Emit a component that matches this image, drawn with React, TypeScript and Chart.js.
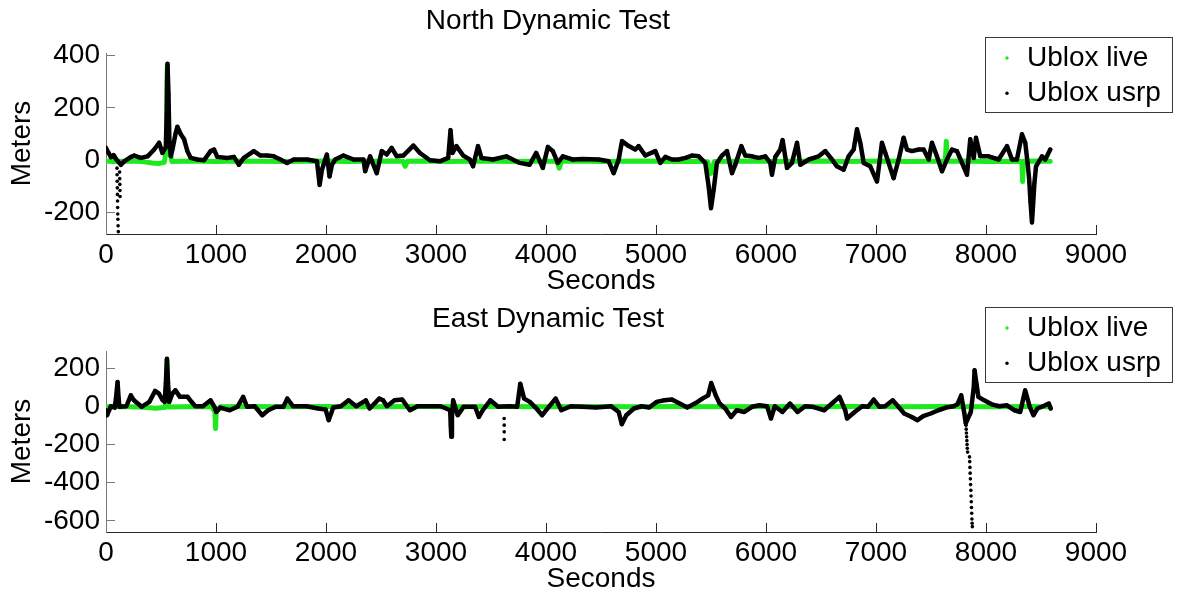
import React, { useEffect, useRef } from 'react';
import { Chart, registerables } from 'chart.js';

Chart.register(...registerables);

const FONT = '"Liberation Sans", Arial, Helvetica, sans-serif';
const GREEN = '#1ee81e';

type Pt = [number, number];

// ---------- tick values ----------
const xTicks = [0, 1000, 2000, 3000, 4000, 5000, 6000, 7000, 8000, 9000];
const northYTicks = [-200, 0, 200, 400];
const eastYTicks = [-600, -400, -200, 0, 200];

// ---------- North Dynamic Test ----------
const northLive: Pt[] = [
  [0, -3], [60, -5], [150, -4], [250, -3], [350, -6], [420, -10], [480, -12], [530, -8],
  [548, 40], [553, 300], [558, 360], [565, 60], [600, -5], [700, -4], [800, -3], [900, -4],
  [1000, -5], [1200, -3], [1400, -4], [1600, -5], [1800, -4], [2000, -3], [2200, -5], [2400, -4],
  [2600, -3], [2700, -4], [2720, -23], [2740, -4], [2900, -3], [3100, -5], [3300, -4], [3500, -3],
  [3700, -5], [3900, -4], [4100, -4], [4120, -30], [4140, -4], [4300, -3], [4500, -5], [4700, -4],
  [4900, -3], [5100, -5], [5300, -4], [5470, -6], [5500, -50], [5530, -5], [5700, -4], [5900, -3],
  [6100, -5], [6300, -4], [6500, -3], [6700, -5], [6900, -4], [7100, -3], [7300, -5], [7500, -4],
  [7630, -4], [7639, 73], [7648, -4], [7800, -3], [8000, -5], [8200, -4], [8326, -5], [8333, -81],
  [8340, -4], [8450, -3], [8584, -4],
];

const northUsrp: Pt[] = [
  [0, 47], [21, 30], [45, 12], [69, 20], [91, 5], [136, -17], [166, -4], [227, 13], [257, 18],
  [317, 9], [378, 15], [438, 41], [483, 67], [513, 28], [544, 50], [553, 200], [559, 368], [568, 250],
  [577, 60], [589, 15], [604, 41], [634, 105], [649, 128], [680, 99], [710, 80], [740, 35], [770, 9],
  [831, 3], [891, 0], [951, 35], [982, 41], [1012, 13], [1102, 9], [1163, 13], [1208, -17], [1253, 9],
  [1344, 35], [1404, 18], [1465, 18], [1525, 15], [1586, 3], [1646, -10], [1706, 3], [1827, 3],
  [1918, -4], [1942, -94], [1963, -36], [2008, 22], [2032, -62], [2054, -17], [2084, 3], [2159, 18],
  [2250, 3], [2341, 3], [2356, -42], [2401, 15], [2461, -49], [2507, 35], [2552, 22], [2597, 47],
  [2643, 15], [2703, 18], [2794, 56], [2854, 28], [2945, 0], [3035, -4], [3111, 9], [3132, 115],
  [3150, 28], [3186, 54], [3247, 18], [3307, 3], [3337, -23], [3382, 54], [3413, 9], [3518, 3],
  [3639, 15], [3760, -10], [3851, -17], [3911, 28], [3971, -29], [4017, 51], [4062, 35], [4107, -10],
  [4153, 15], [4243, 3], [4334, 5], [4479, 3], [4570, -4], [4615, -49], [4661, 3], [4691, 73],
  [4752, 54], [4812, 41], [4842, 54], [4903, 18], [4994, 35], [5039, -10], [5085, 13], [5145, 3],
  [5206, 3], [5267, 9], [5327, 18], [5388, 15], [5448, -10], [5479, -100], [5500, -183], [5524, -113],
  [5554, -10], [5600, 18], [5645, 35], [5691, -49], [5721, -17], [5776, 54], [5812, 18], [5873, 15],
  [5933, 9], [5994, 15], [6039, -10], [6054, -55], [6085, 13], [6130, 41], [6151, 77], [6191, -29],
  [6236, -10], [6282, 67], [6312, -17], [6388, 3], [6479, 15], [6539, 35], [6600, 3], [6645, -23],
  [6706, -36], [6751, 15], [6797, 41], [6827, 118], [6857, 67], [6888, -10], [6948, -23], [7009, -81],
  [7054, 67], [7085, 28], [7160, -68], [7206, 3], [7251, 86], [7282, 41], [7327, 35], [7388, 41],
  [7433, 41], [7479, 3], [7509, 67], [7554, 15], [7600, -42], [7645, 3], [7691, 41], [7736, 35],
  [7782, -10], [7827, -55], [7857, 80], [7888, 9], [7909, 86], [7948, 15], [8024, 15], [8115, 3],
  [8191, 54], [8236, 3], [8281, 3], [8327, 99], [8357, 67], [8378, -10], [8392, -70], [8405, -160],
  [8418, -237], [8428, -170], [8440, -87], [8455, -23], [8509, 15], [8539, 3], [8584, 41],
];

const northUsrpDots: Pt[] = [
  [100, -30], [101, -55], [102, -80], [103, -105], [104, -130], [105, -155], [106, -180], [107, -205],
  [108, -225], [110, -250], [112, -272], [124, -45], [125, -70], [126, -92], [127, -115], [128, -138],
];

// ---------- East Dynamic Test ----------
const eastLive: Pt[] = [
  [0, -3], [150, -2], [300, -4], [400, -8], [450, -10], [500, -8], [540, -5], [548, 100], [554, 240],
  [560, 80], [570, -4], [700, -3], [850, -2], [960, -3], [990, -30], [996, -117], [1002, -30],
  [1040, -3], [1300, -2], [1600, -3], [2000, -2], [2400, -3], [2800, -2], [3200, -3], [3600, -2],
  [4000, -3], [4400, -2], [4800, -3], [5200, -2], [5600, -3], [6000, -2], [6400, -3], [6800, -2],
  [7200, -3], [7600, -2], [8000, -3], [8400, -2], [8584, -3],
];

const eastUsrp: Pt[] = [
  [0, -21], [10, -47], [45, 0], [80, -7], [94, 60], [105, 127], [115, 40], [122, -3], [185, 0],
  [226, 57], [254, 31], [324, -3], [394, 23], [446, 80], [481, 66], [516, 31], [533, 23], [544, 120],
  [554, 249], [564, 120], [575, 23], [603, 66], [631, 83], [672, 49], [742, 49], [777, 23], [812, 0],
  [881, 0], [951, 31], [986, -3], [1003, -30], [1038, -7], [1125, -21], [1195, -3], [1247, 49],
  [1282, -3], [1352, 0], [1421, -47], [1474, -21], [1543, -3], [1613, -3], [1648, 40], [1700, 0],
  [1822, 0], [1927, -12], [1996, -17], [2024, -73], [2066, -7], [2136, 0], [2205, 31], [2275, 0],
  [2362, 31], [2397, -12], [2484, 40], [2519, 31], [2554, 0], [2623, 31], [2693, 35], [2763, -21],
  [2833, 0], [2937, 0], [3042, 0], [3129, -21], [3134, -100], [3139, -160], [3145, -60], [3156, 31],
  [3198, -47], [3251, -3], [3355, -3], [3390, -56], [3425, -21], [3494, 31], [3564, -3], [3669, 0],
  [3738, -3], [3766, 118], [3801, 40], [3853, 23], [3905, -7], [3965, -47], [4026, -3], [4087, 40],
  [4139, -21], [4226, 0], [4331, -3], [4453, -7], [4592, 0], [4661, -30], [4689, -94], [4730, -47],
  [4799, -12], [4869, 0], [4938, -7], [5007, 23], [5076, 31], [5145, 35], [5215, 14], [5284, -7],
  [5353, 14], [5422, 40], [5474, 57], [5502, 122], [5543, 57], [5578, 14], [5630, -12], [5682, -56],
  [5734, -21], [5803, -30], [5872, -3], [5941, 5], [6010, 0], [6045, -64], [6080, 0], [6149, -30],
  [6218, 14], [6287, -30], [6356, 0], [6426, -3], [6529, -21], [6599, 14], [6668, 49], [6720, -21],
  [6737, -64], [6806, -30], [6875, 0], [6927, -3], [6979, 35], [7031, -3], [7083, 0], [7152, 31],
  [7204, -3], [7256, -38], [7325, -56], [7377, -73], [7429, -52], [7498, -38], [7567, -21], [7637, -7],
  [7706, 0], [7740, 10], [7775, 57], [7803, -38], [7816, -90], [7862, -30], [7889, 100], [7896, 188],
  [7913, 118], [7931, 49], [7983, 31], [8052, 10], [8121, 0], [8190, 5], [8259, -21], [8311, -30],
  [8356, 83], [8398, -3], [8432, -47], [8467, -12], [8519, 0], [8571, 14], [8588, -12],
];

const eastUsrpDots: Pt[] = [
  [3620, -64], [3620, -99], [3620, -134], [3620, -174],
  [7818, -100], [7820, -120], [7822, -140], [7824, -160], [7826, -180], [7828, -200], [7830, -220],
  [7833, -240], [7850, -265], [7852, -290], [7854, -320], [7856, -350], [7858, -380], [7860, -410],
  [7862, -440], [7864, -470], [7866, -500], [7868, -530], [7870, -560], [7872, -590], [7874, -612],
  [7876, -630],
];

// ---------- legend plugin (box drawn like MATLAB's) ----------
const boxLegend = {
  id: 'boxLegend',
  afterDraw(chart: any, _args: any, opts: any) {
    const ctx = chart.ctx;
    const items = chart.data.datasets.filter((d: any) => d.inLegend);
    ctx.save();
    ctx.fillStyle = '#ffffff';
    ctx.fillRect(opts.x, opts.y, opts.w, opts.h);
    ctx.strokeStyle = '#3a3a3a';
    ctx.lineWidth = 1;
    ctx.strokeRect(opts.x + 0.5, opts.y + 0.5, opts.w, opts.h);
    ctx.font = `28px ${FONT}`;
    ctx.textBaseline = 'middle';
    ctx.textAlign = 'left';
    items.forEach((d: any, i: number) => {
      const cy = opts.y + opts.firstRow + i * opts.rowGap;
      ctx.fillStyle = d.borderColor;
      ctx.beginPath();
      ctx.arc(opts.x + opts.markerX, cy, 1.7, 0, Math.PI * 2);
      ctx.fill();
      ctx.fillStyle = '#000000';
      ctx.fillText(d.label, opts.x + opts.textX, cy);
    });
    ctx.restore();
  },
};

const toXY = (pts: Pt[]) => pts.map(([x, y]) => ({ x, y }));

function buildConfig(
  title: string,
  live: Pt[],
  usrp: Pt[],
  dots: Pt[],
  yTicks: number[],
  yMin: number,
  yMax: number,
  legendY: number
): any {
  const tickFont = { size: 28, family: FONT };
  return {
    type: 'scatter',
    data: {
      datasets: [
        {
          label: 'Ublox live',
          data: toXY(live),
          showLine: true,
          borderColor: GREEN,
          backgroundColor: GREEN,
          borderWidth: 5,
          borderJoinStyle: 'round',
          borderCapStyle: 'round',
          pointRadius: 0,
          tension: 0,
          order: 3,
          inLegend: true,
        },
        {
          label: 'Ublox usrp',
          data: toXY(usrp),
          showLine: true,
          borderColor: '#000000',
          backgroundColor: '#000000',
          borderWidth: 4.5,
          borderJoinStyle: 'round',
          borderCapStyle: 'round',
          pointRadius: 2,
          pointBorderWidth: 0,
          tension: 0,
          order: 2,
          inLegend: true,
        },
        {
          label: 'Ublox usrp (isolated)',
          data: toXY(dots),
          showLine: false,
          borderColor: '#000000',
          backgroundColor: '#000000',
          pointRadius: 1.8,
          pointBorderWidth: 0,
          order: 1,
        },
      ],
    },
    options: {
      responsive: false,
      animation: false,
      events: [],
      layout: { padding: { left: 0, right: 81, top: 0, bottom: 0 } },
      plugins: {
        legend: { display: false },
        tooltip: { enabled: false },
        title: {
          display: true,
          text: title,
          color: '#000000',
          font: { size: 28, weight: 'normal', family: FONT },
          padding: { top: 4, bottom: 15.4 },
        },
        boxLegend: {
          x: 985,
          y: legendY,
          w: 187,
          h: 75,
          firstRow: 21,
          rowGap: 35.3,
          markerX: 22,
          textX: 42,
        },
      },
      scales: {
        x: {
          type: 'linear',
          position: 'bottom',
          min: 0,
          max: 9000,
          afterBuildTicks: (s: any) => {
            s.ticks = xTicks.map((v) => ({ value: v }));
          },
          afterFit: (s: any) => {
            s.height = 64;
          },
          ticks: {
            color: '#000000',
            font: tickFont,
            padding: 13,
            maxRotation: 0,
            autoSkip: false,
            callback: (v: any) => String(v),
          },
          grid: { drawOnChartArea: false, drawTicks: true, tickLength: -9, color: '#262626' },
          border: { display: true, color: '#262626', width: 1 },
          title: {
            display: true,
            text: 'Seconds',
            color: '#000000',
            font: tickFont,
            padding: { top: 0, bottom: 0 },
          },
        },
        y: {
          type: 'linear',
          position: 'left',
          min: yMin,
          max: yMax,
          afterBuildTicks: (s: any) => {
            s.ticks = yTicks.map((v) => ({ value: v }));
          },
          afterFit: (s: any) => {
            s.width = 106;
          },
          ticks: {
            color: '#000000',
            font: tickFont,
            padding: 15,
            autoSkip: false,
            callback: (v: any) => String(v),
          },
          grid: { drawOnChartArea: false, drawTicks: true, tickLength: -9, color: '#7a7a7a' },
          border: { display: true, color: '#7a7a7a', width: 1 },
          title: {
            display: true,
            text: 'Meters',
            color: '#000000',
            font: tickFont,
            padding: { top: 5, bottom: 0 },
          },
        },
      },
    },
    plugins: [boxLegend],
  };
}

function Panel({ top, make }: { top: number; make: () => any }) {
  const ref = useRef<HTMLCanvasElement>(null);
  useEffect(() => {
    if (!ref.current) return;
    const chart = new Chart(ref.current, make());
    return () => chart.destroy();
  }, []);
  return (
    <div style={{ position: 'absolute', left: 0, top, width: 1177, height: 298 }}>
      <canvas ref={ref} width={1177} height={298} style={{ display: 'block', width: 1177, height: 298 }} />
    </div>
  );
}

export default function App() {
  return (
    <div style={{ position: 'absolute', left: 0, top: 0, width: 1177, height: 597, background: '#ffffff', overflow: 'hidden' }}>
      <Panel
        top={0}
        make={() => buildConfig('North Dynamic Test', northLive, northUsrp, northUsrpDots, northYTicks, -281, 409, 37)}
      />
      <Panel
        top={298}
        make={() => buildConfig('East Dynamic Test', eastLive, eastUsrp, eastUsrpDots, eastYTicks, -658, 289, 9)}
      />
    </div>
  );
}
